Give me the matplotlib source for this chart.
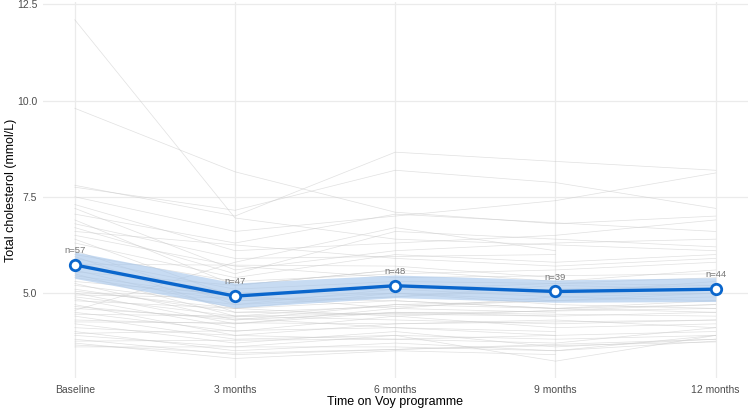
import numpy as np
import matplotlib
matplotlib.use("Agg")
import matplotlib.pyplot as plt

nan = np.nan

# time points
timepoints = ["Baseline", "3 months", "6 months", "9 months", "12 months"]
n_counts = [57, 47, 48, 39, 44]

# group mean and ribbon
mean_vals = [5.73, 4.92, 5.19, 5.04, 5.10]
ci_low = [5.38, 4.62, 4.88, 4.76, 4.78]
ci_high = [6.07, 5.26, 5.47, 5.34, 5.40]

# individual trajectories (Baseline, 3m, 6m, 9m, 12m), estimated
participants = [
    [12.1, 6.95, 6.4, nan, 6.1],
    [9.8, 8.15, 7.1, 6.8, 7.0],
    [7.8, 7.0, 8.66, 8.42, 8.19],
    [7.75, 7.15, 8.19, 7.87, 7.2],
    [7.5, 6.6, 7.0, 7.4, 8.12],
    [7.3, 6.1, 6.3, 6.5, 6.9],
    [7.2, 5.6, 6.1, 6.3, 6.4],
    [7.05, 6.3, 7.05, nan, 6.6],
    [6.9, 5.2, 5.6, 5.3, 5.6],
    [6.8, 5.9, nan, 6.0, nan],
    [6.7, 5.5, 6.6, 6.4, 6.2],
    [6.6, nan, 5.9, 5.7, 5.9],
    [6.5, 5.7, 5.4, nan, 5.5],
    [6.4, 4.9, 5.2, 5.0, 5.3],
    [6.3, 5.4, 6.0, 5.8, 6.0],
    [6.2, nan, nan, nan, nan],
    [6.1, 4.7, 5.1, 4.9, 4.8],
    [6.0, 5.3, 5.5, 5.6, 5.8],
    [5.95, 4.5, nan, 4.8, nan],
    [5.9, 5.1, 5.3, nan, 5.2],
    [5.8, 4.8, 4.9, 5.2, 5.1],
    [5.75, nan, 5.7, 5.4, nan],
    [5.7, 5.0, 5.1, nan, 5.4],
    [5.6, 4.6, 4.8, 4.6, 4.7],
    [5.55, 5.2, 5.6, nan, nan],
    [5.5, 4.4, 4.7, nan, 4.9],
    [5.45, 4.9, nan, nan, nan],
    [5.4, 4.8, 5.0, 4.7, 4.6],
    [5.3, nan, 4.6, 4.9, 5.0],
    [5.25, 4.3, 4.5, nan, 4.4],
    [5.2, 4.7, 4.9, 5.1, 5.2],
    [5.1, 4.5, nan, 4.4, 4.5],
    [5.05, 4.6, 4.4, nan, 4.7],
    [5.0, 4.2, 4.6, 4.5, nan],
    [4.95, nan, 4.8, 4.6, 4.8],
    [4.9, 4.4, 4.3, 4.2, 4.3],
    [4.85, 4.1, nan, nan, nan],
    [4.8, 4.6, 5.0, 4.8, 5.0],
    [4.7, 3.9, 4.2, 4.3, 4.1],
    [4.65, 4.3, 4.7, nan, 4.5],
    [4.6, nan, 4.1, 3.9, nan],
    [4.5, 4.0, 4.4, 4.1, 4.2],
    [4.45, 4.4, nan, nan, 4.6],
    [4.4, 3.8, 3.9, 3.8, 3.9],
    [4.3, 4.2, 4.5, 4.4, nan],
    [4.25, nan, 4.2, nan, 4.3],
    [4.2, 3.7, 4.0, 3.6, 3.8],
    [4.1, 3.9, 3.8, nan, 4.0],
    [4.0, 3.5, 3.7, 3.5, 3.75],
    [3.95, nan, 4.1, 4.0, nan],
    [3.9, 3.6, 3.9, 3.23, 3.9],
    [3.8, 3.4, nan, nan, 3.8],
    [3.75, nan, 3.8, 3.7, 4.1],
    [3.7, 3.3, 3.5, 3.4, nan],
    [3.65, 3.44, nan, nan, 3.73],
    [3.6, nan, 3.6, 3.5, 3.9],
    [4.55, 5.8, 6.7, 6.1, nan],
]

plt.rcParams['font.family'] = ['Liberation Sans', 'DejaVu Sans']

fig = plt.figure(figsize=(7.5, 4.11), dpi=100)
ax = fig.add_axes([0.057, 0.081, 0.94, 0.913])

x = np.arange(len(timepoints))

# spaghetti
for row in participants:
    vals = np.array(row, dtype=float)
    ok = ~np.isnan(vals)
    if ok.sum() > 1:
        ax.plot(x[ok], vals[ok], color='#c8c8c8', lw=0.5, alpha=0.55, zorder=2)

# ribbon + mean
blue = '#0a66cc'
ax.fill_between(x, ci_low, ci_high, color='#a9c8ec', alpha=0.65, lw=0, zorder=3)
ax.plot(x, mean_vals, color=blue, lw=2.4, zorder=4, solid_capstyle='round')
ax.plot(x, mean_vals, 'o', ms=7.5, mfc='white', mec=blue, mew=2.0, zorder=5)

for xi, yi, n in zip(x, mean_vals, n_counts):
    ax.annotate(f"n={n}", (xi, yi), xytext=(0, 7), textcoords='offset points',
                ha='center', va='bottom', fontsize=6.8, color='#777777', zorder=6)

ax.set_xlim(-0.2, 4.2)
ax.set_ylim(2.80, 12.55)
ax.set_xticks(x)
ax.set_xticklabels(timepoints)
ax.set_yticks([5.0, 7.5, 10.0, 12.5])
ax.set_yticklabels(["5.0", "7.5", "10.0", "12.5"])

ax.grid(True, color='#ebebeb', lw=0.9)
ax.set_axisbelow(True)
for s in ax.spines.values():
    s.set_visible(False)
ax.tick_params(length=0, labelsize=7.5, labelcolor='#4d4d4d')
ax.tick_params(axis='x', pad=5)
ax.tick_params(axis='y', pad=4)

ax.set_xlabel("Time on Voy programme", fontsize=9)
ax.set_ylabel("Total cholesterol (mmol/L)", fontsize=9)
ax.xaxis.set_label_coords(0.5, -0.05)
ax.yaxis.set_label_coords(-0.037, 0.5)

fig.savefig("out.png", dpi=100)
